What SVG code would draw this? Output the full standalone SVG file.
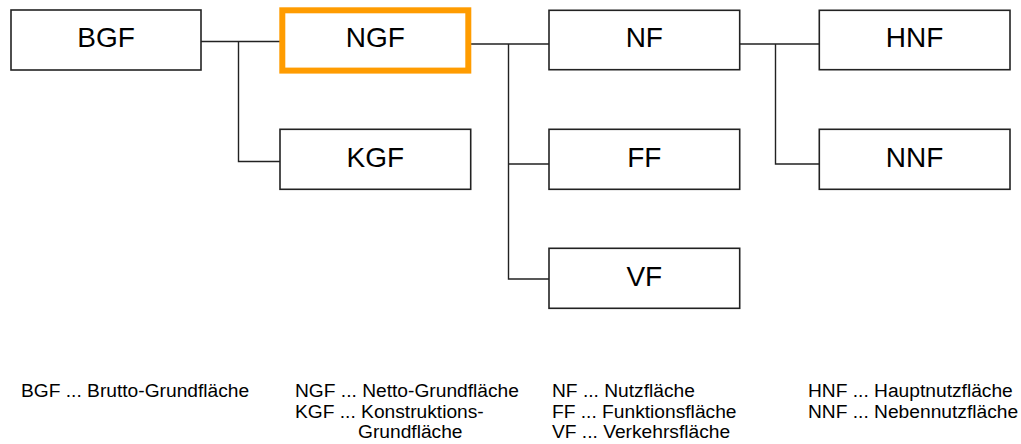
<svg xmlns="http://www.w3.org/2000/svg" width="1021" height="444" viewBox="0 0 1021 444">
<style>
.box{fill:#fff;stroke:#222;stroke-width:1.6}
.hl{fill:#fff;stroke:#FF9C00;stroke-width:6}
.lbl{font-family:"Liberation Sans",Arial,sans-serif;font-size:28px;fill:#000;text-anchor:middle}
.leg{font-family:"Liberation Sans",Arial,sans-serif;font-size:19.2px;fill:#000}
.con{fill:none;stroke:#222;stroke-width:1.4}
</style>
<rect width="1021" height="444" fill="#fff"/>
<g id="connectors">
<path class="con" d="M201,41.5 H282 M238.5,41.5 V161.5 H280"/>
<path class="con" d="M471,44 H549 M508.5,44 V279 H549 M508.5,164 H549"/>
<path class="con" d="M740,44 H819 M775.5,44 V164 H819"/>
</g>
<g id="BGF"><rect class="box" x="11" y="10" width="190" height="60"/><text class="lbl" x="106" y="47">BGF</text></g>
<g id="NGF"><rect class="hl" x="282.3" y="10.3" width="186" height="60.3"/><text class="lbl" x="375.3" y="47">NGF</text></g>
<g id="KGF"><rect class="box" x="280" y="129.3" width="190.7" height="60"/><text class="lbl" x="375.3" y="167">KGF</text></g>
<g id="NF"><rect class="box" x="549" y="10.3" width="190.7" height="59.4"/><text class="lbl" x="644.3" y="47">NF</text></g>
<g id="FF"><rect class="box" x="549" y="129.3" width="190.7" height="60"/><text class="lbl" x="644.3" y="167">FF</text></g>
<g id="VF"><rect class="box" x="549" y="248.3" width="190.7" height="60"/><text class="lbl" x="644.3" y="285.5">VF</text></g>
<g id="HNF"><rect class="box" x="819.3" y="10.3" width="190.7" height="59.4"/><text class="lbl" x="914.6" y="47">HNF</text></g>
<g id="NNF"><rect class="box" x="819.3" y="129.3" width="190.7" height="60"/><text class="lbl" x="914.6" y="167">NNF</text></g>
<g id="legend">
<text class="leg" x="21" y="397">BGF ... Brutto-Grundfläche</text>
<text class="leg" x="295" y="397">NGF ... Netto-Grundfläche</text>
<text class="leg" x="295" y="417.7">KGF ... Konstruktions-</text>
<text class="leg" x="358" y="438.3">Grundfläche</text>
<text class="leg" x="552" y="397">NF ... Nutzfläche</text>
<text class="leg" x="552" y="417.7">FF ... Funktionsfläche</text>
<text class="leg" x="552" y="438.3">VF ... Verkehrsfläche</text>
<text class="leg" x="808" y="397">HNF ... Hauptnutzfläche</text>
<text class="leg" x="808" y="417.7">NNF ... Nebennutzfläche</text>
</g>
</svg>
